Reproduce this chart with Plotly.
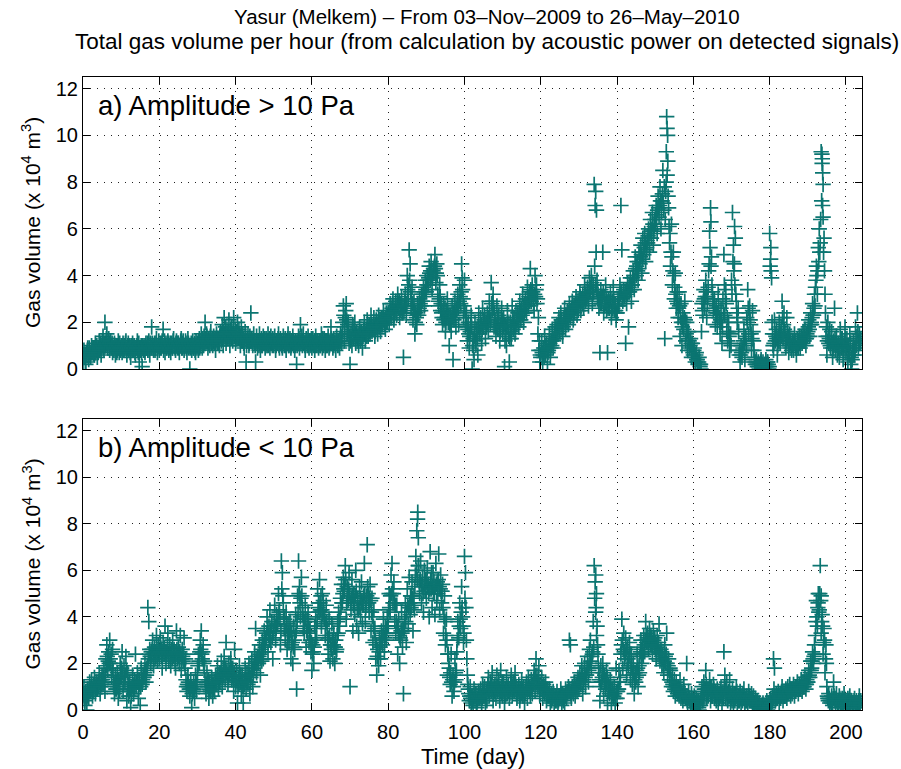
import numpy as np
import plotly.graph_objects as go

# ---------------------------------------------------------------
# Hourly gas volume at Yasur (Melkem), units of 1e4 m^3.
# Day 0 = 03-Nov-2009. Each block holds 2 days per row, one value
# every 6 h; the "_q" blocks hold the values 3 h later (03,09,15,21 h).
# ---------------------------------------------------------------
STEP_HOURS = 6
OFFSET_HOURS = 3

# a) events with amplitude > 10 Pa  (00, 06, 12, 18 h)
gas_high_d000_051 = [
    0.3, 0.8, 0.5, 0.2, 0.6, 0.9, 0.4, 0.7,
    0.5, 1.0, 0.7, 0.9, 0.6, 1.1, 0.8, 0.5,
    0.7, 1.2, 0.9, 0.6, 1.0, 1.4, 0.8, 2.0,
    1.1, 1.5, 0.9, 1.3, 0.8, 1.2, 1.0, 0.7,
    0.9, 1.1, 0.6, 1.0, 0.8, 1.2, 0.7, 0.9,
    1.0, 0.7, 1.1, 0.8, 0.9, 1.2, 0.6, 1.0,
    0.8, 1.0, 0.5, 0.9, 1.1, 0.8, 1.0, 0.6,
    0.9, 1.2, 0.7, 0.3, 0.8, 1.0, 0.1, 0.9,
    1.0, 0.7, 1.1, 0.9, 0.8, 1.2, 0.6, 1.0,
    1.8, 1.0, 0.8, 1.1, 0.9, 1.3, 0.7, 1.0,
    0.8, 1.1, 0.9, 1.2, 1.7, 1.0, 0.7, 1.1,
    0.9, 1.2, 0.8, 1.0, 0.7, 1.1, 0.9, 1.3,
    1.0, 0.8, 1.2, 0.9, 1.1, 0.7, 1.0, 1.3,
    0.9, 1.2, 0.8, 1.0, 1.1, 0.7, 1.3, 0.9,
    0.0, 1.0, 0.8, 1.2, 0.9, 1.1, 0.7, 1.0,
    1.1, 0.8, 1.3, 1.0, 1.5, 0.9, 1.2, 1.4,
    2.0, 1.1, 1.4, 0.9, 1.3, 1.0, 1.6, 1.2,
    1.0, 1.4, 1.2, 0.8, 1.5, 1.1, 1.3, 1.0,
    1.6, 1.2, 1.9, 1.0, 2.2, 1.4, 1.1, 1.7,
    1.3, 2.1, 1.0, 1.5, 1.8, 1.2, 2.2, 1.4,
    1.1, 1.6, 2.0, 1.3, 1.5, 1.0, 1.8, 1.2,
    1.3, 0.9, 1.6, 0.3, 1.2, 1.5, 1.0, 1.4,
    2.4, 1.2, 1.0, 1.5, 1.1, 0.3, 1.4, 0.9,
    1.2, 1.5, 0.8, 1.3, 1.0, 1.4, 1.1, 0.9,
    1.3, 1.0, 1.5, 1.2, 0.9, 1.4, 1.1, 1.3,
    1.0, 1.4, 0.8, 1.2, 1.1, 1.5, 0.9, 1.3,
]
gas_high_d052_101 = [
    1.2, 0.9, 1.4, 1.0, 1.3, 0.8, 1.1, 1.5,
    1.0, 1.3, 0.9, 1.2, 1.4, 1.0, 0.8, 1.2,
    0.2, 1.1, 1.4, 0.9, 1.9, 1.2, 1.0, 1.5,
    1.1, 0.8, 1.3, 1.0, 1.4, 0.9, 1.2, 1.0,
    0.9, 1.3, 1.1, 0.8, 1.4, 1.0, 1.2, 0.9,
    1.2, 1.0, 1.5, 0.9, 1.1, 1.3, 0.8, 1.2,
    1.0, 1.4, 0.9, 1.2, 1.8, 1.1, 0.9, 1.3,
    1.1, 0.8, 1.4, 1.0, 1.2, 0.9, 1.5, 1.1,
    1.6, 2.7, 1.2, 2.2, 2.8, 1.5, 2.0, 1.1,
    0.2, 1.5, 1.0, 1.9, 1.3, 2.0, 1.1, 1.6,
    1.4, 1.0, 1.8, 1.2, 1.6, 0.9, 1.5, 2.0,
    1.2, 1.7, 2.1, 1.4, 1.9, 1.5, 2.3, 1.6,
    1.7, 2.2, 1.4, 1.9, 2.0, 1.5, 2.3, 1.8,
    1.6, 2.2, 1.9, 2.5, 2.1, 1.7, 2.4, 2.0,
    2.4, 1.9, 2.8, 2.2, 2.6, 3.0, 2.1, 2.5,
    2.9, 2.3, 3.2, 2.6, 2.2, 2.8, 3.1, 2.4,
    0.5, 2.7, 3.2, 2.3, 4.0, 3.0, 5.1, 4.5,
    2.6, 3.5, 2.1, 2.9, 1.5, 2.4, 1.9, 2.8,
    2.3, 3.0, 2.5, 3.2, 2.9, 3.5, 2.7, 3.8,
    3.3, 4.0, 3.6, 4.4, 3.8, 4.6, 3.4, 4.2,
    4.1, 4.9, 3.7, 4.5, 3.2, 2.7, 3.6, 2.5,
    2.4, 1.9, 2.8, 2.2, 1.6, 2.5, 3.0, 2.0,
    1.0, 2.3, 1.6, 2.7, 0.4, 2.1, 2.9, 1.8,
    2.5, 3.2, 1.9, 3.6, 2.8, 4.5, 3.4, 2.2,
    3.8, 1.8, 2.4, 1.2, 2.0, 0.9, 1.6, 2.3,
]
gas_high_d102_151 = [
    0.0, 1.3, 0.4, 2.0, 1.0, 1.7, 0.6, 2.4,
    1.5, 2.2, 1.1, 2.6, 1.8, 2.3, 1.3, 2.0,
    2.4, 1.6, 2.9, 1.9, 3.7, 2.5, 3.2, 1.8,
    2.1, 1.4, 2.7, 1.7, 2.3, 1.2, 1.9, 2.6,
    1.5, 2.2, 0.1, 1.9, 1.0, 2.5, 1.6, 0.3,
    2.0, 1.3, 2.7, 1.7, 2.2, 1.5, 2.5, 1.9,
    2.4, 1.8, 2.9, 2.1, 2.6, 3.2, 2.0, 2.8,
    3.0, 2.4, 3.5, 2.7, 3.3, 4.3, 2.9, 3.6,
    3.1, 2.5, 4.0, 3.4, 2.8, 1.5, 0.8, 0.3,
    0.5, 1.2, 0.3, 0.9, 1.4, 0.6, 1.1, 0.2,
    0.8, 1.5, 0.5, 1.2, 1.7, 0.9, 1.3, 1.8,
    1.3, 1.9, 1.5, 2.2, 1.6, 2.4, 1.9, 1.4,
    2.0, 2.6, 1.7, 2.3, 2.5, 1.9, 2.8, 2.2,
    2.4, 2.9, 2.1, 2.7, 2.6, 3.1, 2.3, 2.9,
    2.8, 3.3, 2.5, 3.0, 3.2, 2.6, 3.6, 2.9,
    3.0, 3.5, 2.7, 3.9, 3.3, 4.0, 2.8, 3.6,
    7.9, 7.0, 5.0, 3.8, 3.2, 2.6, 0.7, 3.4,
    2.8, 5.0, 2.4, 3.1, 3.6, 2.5, 0.7, 3.0,
    2.6, 3.3, 2.2, 2.9, 3.5, 2.5, 2.8, 2.1,
    2.4, 3.0, 2.7, 3.6, 7.0, 5.1, 2.9, 3.4,
    3.1, 1.1, 2.8, 3.7, 1.8, 3.3, 3.9, 2.9,
    3.6, 4.2, 3.4, 4.8, 4.0, 4.6, 3.8, 5.0,
    4.5, 5.3, 4.1, 5.6, 4.9, 5.8, 4.6, 5.2,
    5.4, 6.0, 5.0, 6.4, 5.6, 6.7, 5.3, 6.1,
    6.2, 7.0, 5.8, 7.4, 6.5, 7.8, 6.0, 7.2,
]
gas_high_d152_203 = [
    8.5, 6.8, 1.3, 7.6, 10.8, 10.0, 6.9, 5.4,
    4.4, 6.2, 3.6, 5.0, 3.0, 4.1, 2.6, 3.3,
    2.2, 3.3, 1.4, 2.8, 1.0, 2.4, 1.7, 2.9,
    1.2, 2.0, 0.8, 1.6, 0.9, 1.3, 0.5, 1.1,
    0.6, 0.9, 0.3, 0.7, 0.4, 0.2, 0.5, 0.1,
    0.0, 2.8, 2.3, 3.4, 2.6, 3.8, 2.2, 3.1,
    4.2, 5.9, 6.9, 4.8, 3.3, 2.5, 3.0, 1.9,
    2.7, 1.8, 3.2, 2.2, 1.5, 2.6, 1.1, 3.0,
    4.9, 2.3, 3.4, 1.6, 1.2, 2.0, 0.8, 1.5,
    3.8, 6.7, 5.3, 4.5, 5.6, 2.9, 2.0, 2.6,
    0.6, 0.3, 1.0, 0.5, 0.9, 1.7, 0.4, 1.3,
    2.2, 3.4, 1.5, 2.7, 1.9, 0.8, 2.5, 1.2,
    0.5, 0.2, 0.4, 0.1, 0.3, 0.0, 0.2, 0.4,
    0.1, 0.3, 0.0, 0.2, 0.4, 0.1, 0.3, 0.0,
    5.8, 4.7, 3.9, 1.5, 0.8, 2.1, 1.2, 1.7,
    0.6, 1.4, 2.0, 1.1, 1.8, 2.9, 1.3, 2.4,
    1.6, 0.9, 2.2, 1.3, 0.7, 1.5, 1.1, 0.8,
    1.2, 0.8, 1.5, 1.0, 0.6, 1.3, 0.9, 1.4,
    0.9, 1.4, 1.1, 1.6, 1.2, 1.7, 1.0, 1.5,
    1.6, 2.1, 1.4, 2.4, 1.9, 2.8, 2.3, 3.2,
    3.5, 4.4, 3.2, 5.2, 6.0, 5.4, 9.3, 8.8,
    6.5, 5.6, 3.2, 1.4, 0.6, 2.0, 1.1, 1.7,
    0.9, 1.6, 0.5, 1.2, 2.6, 0.8, 1.4, 0.6,
    1.1, 0.5, 1.7, 0.9, 1.3, 0.4, 1.0, 1.8,
    0.7, 1.3, 0.3, 1.0, 1.5, 0.2, 0.0, 0.8,
    1.2, 0.6, 1.8, 1.0, 2.4, 0.9, 1.5, 1.1,
]

# a) amplitude > 10 Pa  (03, 09, 15, 21 h)
gas_high_q000_051 = [
    0.5, 0.6, 0.3, 0.7, 0.8, 0.5, 0.9, 0.6,
    0.7, 0.8, 0.9, 0.6, 0.9, 0.7, 1.0, 0.8,
    0.9, 0.8, 1.1, 0.9, 1.2, 0.9, 1.1, 1.0,
    1.3, 1.0, 1.2, 1.1, 1.0, 0.9, 1.1, 0.8,
    0.8, 1.0, 0.9, 0.7, 1.0, 0.9, 1.1, 0.8,
    0.9, 1.0, 0.8, 1.0, 1.1, 0.8, 0.9, 1.1,
    0.9, 0.7, 1.0, 0.8, 0.9, 1.0, 0.7, 0.9,
    1.0, 0.8, 1.1, 0.9, 0.9, 0.7, 1.0, 0.8,
    0.8, 1.0, 0.9, 1.1, 1.0, 0.8, 1.1, 0.9,
    1.1, 0.9, 1.0, 0.8, 1.1, 1.0, 0.9, 1.2,
    1.0, 0.9, 1.1, 1.0, 0.8, 1.2, 1.0, 0.9,
    1.0, 1.1, 0.9, 1.1, 1.0, 0.9, 1.2, 1.0,
    0.9, 1.1, 1.0, 1.1, 0.9, 1.0, 1.2, 0.9,
    1.1, 1.0, 0.9, 1.2, 0.9, 1.0, 1.1, 1.0,
    0.9, 1.1, 1.0, 0.9, 1.0, 0.8, 1.2, 0.9,
    1.0, 1.2, 0.9, 1.1, 1.2, 1.3, 1.0, 1.1,
    1.3, 1.5, 1.2, 1.1, 1.2, 1.4, 1.1, 1.3,
    1.2, 1.1, 1.3, 1.2, 1.3, 1.2, 1.1, 1.4,
    1.4, 1.5, 1.3, 1.6, 1.5, 1.8, 1.3, 1.4,
    1.6, 1.4, 1.7, 1.3, 1.5, 1.6, 1.4, 1.7,
    1.4, 1.3, 1.5, 1.7, 1.3, 1.4, 1.2, 1.5,
    1.1, 1.2, 1.4, 1.0, 1.3, 1.2, 1.1, 1.2,
    1.3, 1.1, 1.3, 1.2, 1.0, 1.2, 1.1, 1.2,
    1.0, 1.1, 1.2, 1.0, 1.2, 1.1, 1.3, 1.0,
    1.1, 1.2, 1.0, 1.3, 1.1, 1.2, 1.0, 1.1,
    1.2, 1.1, 1.0, 1.1, 1.3, 1.0, 1.2, 1.1,
]
gas_high_q052_101 = [
    1.0, 1.1, 1.2, 1.1, 1.0, 1.2, 1.3, 1.0,
    1.2, 1.1, 1.0, 1.1, 1.2, 1.1, 1.0, 1.1,
    1.0, 1.2, 1.1, 1.3, 1.1, 1.4, 1.2, 1.1,
    1.0, 1.1, 1.2, 1.1, 1.0, 1.2, 1.1, 1.3,
    1.1, 1.0, 1.2, 1.0, 1.1, 1.2, 1.0, 1.1,
    1.0, 1.2, 1.1, 1.3, 1.0, 1.1, 1.2, 1.0,
    1.2, 1.1, 1.0, 1.1, 1.3, 1.2, 1.0, 1.1,
    1.0, 1.2, 1.1, 1.2, 1.0, 1.3, 1.2, 1.4,
    2.0, 2.3, 1.8, 2.5, 2.1, 1.9, 1.6, 1.4,
    1.2, 1.3, 1.7, 1.4, 1.6, 1.5, 1.4, 1.3,
    1.2, 1.5, 1.3, 1.6, 1.3, 1.4, 1.7, 1.5,
    1.5, 1.4, 1.8, 1.7, 1.6, 1.8, 1.9, 1.7,
    1.9, 1.8, 1.6, 2.1, 1.7, 1.9, 2.0, 2.1,
    1.9, 2.0, 2.2, 2.1, 1.9, 2.2, 2.0, 2.3,
    2.2, 2.3, 2.5, 2.4, 2.8, 2.4, 2.3, 2.7,
    2.5, 2.7, 2.8, 2.9, 2.5, 2.6, 2.4, 2.7,
    2.4, 2.9, 2.7, 2.8, 3.4, 3.6, 3.8, 3.3,
    3.0, 2.8, 2.4, 2.5, 2.0, 2.2, 2.3, 2.5,
    2.6, 2.8, 2.7, 2.9, 3.2, 3.1, 3.3, 3.4,
    3.6, 3.8, 3.9, 4.1, 4.2, 4.0, 3.9, 4.3,
    4.4, 4.3, 4.1, 4.0, 2.9, 3.0, 3.1, 2.8,
    2.2, 2.5, 2.1, 2.6, 2.0, 2.2, 2.4, 2.3,
    1.9, 2.0, 2.1, 2.2, 2.4, 2.5, 2.3, 2.6,
    2.8, 2.6, 2.9, 3.1, 3.3, 3.9, 3.0, 2.7,
    2.5, 2.2, 1.9, 1.7, 1.5, 1.4, 1.9, 1.8,
]
gas_high_q102_151 = [
    1.0, 0.8, 1.4, 1.2, 1.5, 1.3, 1.8, 1.6,
    1.8, 1.9, 1.7, 2.0, 2.1, 2.0, 1.8, 1.9,
    2.0, 2.2, 2.3, 2.1, 2.8, 2.9, 2.6, 2.4,
    1.9, 1.8, 2.2, 2.0, 1.7, 1.6, 2.2, 2.1,
    1.8, 1.9, 1.2, 1.5, 1.8, 2.0, 1.4, 1.3,
    1.6, 1.8, 2.1, 2.0, 1.9, 1.8, 2.1, 2.2,
    2.1, 2.3, 2.5, 2.4, 2.3, 2.7, 2.4, 2.5,
    2.7, 2.8, 3.0, 3.1, 2.9, 3.4, 3.2, 3.3,
    2.8, 3.2, 3.1, 3.6, 3.0, 2.2, 1.2, 0.6,
    0.8, 0.7, 0.6, 0.5, 0.9, 1.0, 0.8, 0.7,
    1.0, 1.1, 0.9, 1.0, 1.3, 1.2, 1.5, 1.4,
    1.6, 1.7, 1.8, 1.9, 2.0, 2.1, 1.7, 1.8,
    2.2, 2.3, 2.1, 2.0, 2.2, 2.4, 2.3, 2.5,
    2.6, 2.5, 2.6, 2.4, 2.8, 2.7, 2.6, 2.5,
    3.0, 3.1, 2.9, 2.8, 2.9, 3.0, 3.2, 3.1,
    3.2, 3.1, 3.3, 3.4, 3.5, 3.7, 3.2, 3.3,
    4.4, 3.6, 3.4, 3.1, 2.9, 3.0, 2.8, 3.1,
    3.1, 3.3, 2.7, 2.8, 3.0, 2.9, 2.6, 2.7,
    2.9, 3.0, 2.5, 2.6, 3.0, 2.8, 2.5, 2.4,
    2.7, 2.8, 3.1, 3.2, 3.3, 3.0, 3.2, 3.1,
    3.3, 3.4, 3.2, 3.3, 3.5, 3.6, 3.4, 3.6,
    3.9, 4.0, 3.8, 4.3, 4.4, 4.2, 4.3, 4.6,
    4.8, 4.9, 4.7, 5.0, 5.2, 5.4, 5.1, 5.5,
    5.7, 5.6, 5.8, 5.9, 6.0, 6.2, 5.9, 6.4,
    6.6, 6.4, 6.8, 6.9, 7.0, 7.2, 6.7, 7.5,
]
gas_high_q152_203 = [
    7.1, 7.8, 6.4, 8.0, 8.3, 7.4, 6.1, 5.8,
    5.0, 4.8, 4.2, 4.0, 3.5, 3.2, 2.9, 2.8,
    2.6, 2.7, 2.2, 2.0, 1.8, 2.0, 2.2, 2.1,
    1.5, 1.6, 1.3, 1.2, 1.0, 1.1, 0.8, 0.7,
    0.8, 0.5, 0.6, 0.4, 0.3, 0.3, 0.2, 0.2,
    1.6, 2.5, 2.9, 3.0, 3.1, 3.3, 2.8, 3.5,
    4.5, 5.2, 4.4, 3.6, 2.9, 2.8, 2.6, 2.4,
    2.3, 2.4, 2.6, 2.0, 2.1, 2.0, 1.8, 2.4,
    3.6, 2.9, 2.8, 2.2, 1.6, 1.4, 1.1, 1.0,
    3.2, 4.6, 4.2, 3.6, 3.2, 2.4, 2.2, 1.6,
    0.8, 0.6, 0.7, 0.8, 1.2, 1.1, 1.4, 1.0,
    2.0, 2.6, 2.4, 2.1, 1.5, 1.3, 1.6, 0.8,
    0.3, 0.3, 0.2, 0.2, 0.1, 0.2, 0.3, 0.1,
    0.2, 0.1, 0.2, 0.1, 0.2, 0.3, 0.2, 0.1,
    4.4, 4.2, 2.0, 1.0, 1.1, 1.5, 1.4, 1.3,
    1.0, 1.2, 1.6, 1.5, 1.4, 2.2, 1.9, 1.7,
    1.3, 1.2, 1.6, 1.4, 1.0, 1.2, 0.9, 1.0,
    1.0, 1.1, 1.2, 0.9, 0.9, 1.0, 1.2, 1.1,
    1.1, 1.2, 1.3, 1.2, 1.4, 1.3, 1.3, 1.4,
    1.8, 1.7, 1.9, 2.0, 2.2, 2.3, 2.6, 2.7,
    3.8, 4.0, 4.2, 4.6, 5.0, 6.4, 7.2, 7.0,
    5.0, 4.2, 2.4, 1.8, 1.2, 1.4, 1.3, 1.0,
    1.2, 1.1, 0.9, 1.0, 1.3, 1.1, 1.0, 0.9,
    0.9, 0.8, 1.2, 1.3, 1.0, 0.7, 1.2, 1.3,
    0.9, 1.0, 0.7, 0.6, 1.1, 0.5, 0.4, 0.6,
    0.9, 0.8, 1.3, 1.4, 1.6, 1.2, 1.1, 1.3,
]
# short bursts between the regular samples
burst_high_day = [134.4, 134.6, 152.9, 153.1, 153.3, 164.6, 170.8, 180.3,
                  193.7, 193.8, 193.9, 194.0]
burst_high_val = [7.6, 6.8, 9.3, 10.3, 8.9, 6.3, 6.1, 5.2,
                  9.2, 9.0, 8.4, 7.9]

# b) events with amplitude < 10 Pa  (00, 06, 12, 18 h)
gas_low_d000_051 = [
    0.6, 1.0, 0.2, 0.8, 0.0, 0.9, 0.5, 1.2,
    0.8, 1.3, 0.6, 1.1, 1.4, 0.7, 1.2, 0.9,
    1.0, 1.6, 0.7, 1.3, 1.5, 1.1, 1.8, 0.8,
    2.2, 2.8, 1.7, 2.5, 3.0, 2.0, 1.4, 2.6,
    1.2, 0.7, 1.5, 0.9, 1.6, 0.5, 1.1, 2.0,
    1.4, 2.5, 0.8, 1.9, 1.2, 2.3, 0.4, 1.6,
    0.6, 1.2, 0.1, 0.9, 1.5, 0.7, 1.3, 2.4,
    1.0, 1.6, 0.5, 1.3, 0.2, 1.8, 1.1, 1.5,
    1.4, 2.0, 1.2, 1.8, 4.4, 3.8, 2.6, 2.0,
    2.3, 3.0, 1.9, 2.7, 2.5, 3.2, 2.1, 2.8,
    2.2, 3.1, 2.6, 1.8, 2.9, 2.4, 3.6, 2.0,
    2.5, 3.3, 2.1, 2.8, 1.9, 2.6, 3.0, 2.3,
    2.4, 1.8, 3.4, 2.2, 2.7, 2.0, 3.2, 1.7,
    2.6, 2.1, 3.1, 1.8, 1.3, 0.8, 1.5, 1.0,
    0.6, 1.3, 0.1, 0.9, 1.2, 0.5, 1.5, 0.8,
    1.6, 2.4, 2.0, 3.0, 3.4, 2.2, 2.8, 1.7,
    1.3, 0.7, 1.6, 1.0, 0.5, 1.2, 0.8, 1.4,
    0.6, 1.1, 0.8, 1.5, 1.2, 1.9, 0.9, 1.6,
    1.4, 2.1, 1.0, 1.8, 2.3, 1.3, 2.9, 1.7,
    1.1, 2.0, 1.5, 2.2, 1.3, 1.8, 0.8, 2.6,
    1.0, 1.7, 0.3, 1.4, 1.9, 1.2, 0.6, 1.5,
    0.3, 1.3, 1.8, 0.9, 1.6, 1.1, 2.0, 0.7,
    1.4, 2.2, 1.0, 1.8, 2.5, 3.5, 1.6, 2.3,
    2.0, 2.8, 1.5, 2.6, 3.0, 2.2, 3.4, 2.7,
    3.1, 4.0, 2.5, 3.6, 4.3, 2.9, 3.8, 2.2,
    3.4, 4.5, 3.0, 4.1, 3.7, 5.0, 4.3, 2.8,
]
gas_low_d052_101 = [
    6.4, 5.9, 4.6, 3.5, 3.0, 4.2, 2.6, 3.7,
    2.9, 3.8, 2.2, 3.3, 2.0, 3.6, 2.6, 4.1,
    0.9, 4.9, 6.4, 5.3, 4.0, 5.7, 4.4, 3.5,
    3.3, 4.5, 2.7, 3.9, 4.2, 2.9, 3.5, 2.5,
    1.7, 2.8, 2.0, 3.6, 4.0, 3.1, 5.2, 4.6,
    5.6, 4.3, 3.6, 5.0, 4.7, 3.9, 3.2, 4.5,
    3.5, 2.4, 3.9, 2.1, 2.8, 3.7, 2.2, 3.3,
    2.0, 3.0, 2.6, 3.8, 4.2, 3.6, 4.8, 5.4,
    4.6, 5.7, 5.1, 6.2, 3.9, 5.3, 4.7, 5.9,
    1.0, 4.3, 5.6, 3.4, 5.0, 4.1, 6.0, 3.6,
    4.8, 3.3, 5.3, 4.0, 5.5, 3.7, 4.5, 6.3,
    3.8, 4.6, 7.1, 5.0, 4.2, 5.4, 3.4, 4.8,
    2.9, 4.3, 3.5, 2.2, 1.5, 2.6, 1.9, 3.1,
    2.2, 3.4, 2.8, 3.9, 2.5, 3.6, 3.0, 4.0,
    3.6, 5.0, 4.2, 5.8, 6.3, 4.6, 5.5, 3.8,
    3.3, 4.5, 2.4, 3.9, 2.0, 3.0, 4.2, 2.7,
    0.7, 3.5, 4.6, 2.9, 5.2, 3.7, 5.7, 4.1,
    4.4, 5.5, 3.4, 4.9, 5.3, 6.6, 7.7, 8.5,
    6.2, 5.0, 6.4, 4.6, 5.7, 4.2, 6.0, 5.1,
    4.8, 6.1, 5.4, 4.0, 6.8, 5.2, 4.4, 5.9,
    5.5, 4.1, 6.3, 4.7, 5.0, 6.7, 4.3, 5.8,
    4.6, 5.4, 3.3, 4.9, 2.8, 3.9, 1.5, 2.4,
    1.8, 1.1, 2.4, 0.6, 1.5, 0.8, 2.2, 1.3,
    2.5, 3.8, 3.1, 4.6, 3.5, 5.3, 4.0, 2.9,
    6.6, 5.9, 3.0, 1.5, 0.9, 0.4, 1.0, 0.3,
]
gas_low_d102_151 = [
    0.6, 0.2, 0.9, 0.4, 0.7, 0.1, 0.5, 0.8,
    0.5, 0.9, 0.3, 1.1, 0.6, 1.0, 0.2, 0.8,
    0.9, 1.4, 0.6, 1.2, 0.8, 1.6, 0.4, 1.0,
    1.1, 0.5, 1.5, 0.8, 1.3, 0.4, 1.7, 0.7,
    0.6, 1.2, 0.3, 0.9, 1.4, 0.7, 1.1, 0.5,
    0.9, 1.5, 0.6, 1.2, 0.8, 1.6, 1.0, 0.5,
    0.7, 1.1, 0.4, 0.9, 1.3, 0.6, 1.0, 0.3,
    0.8, 1.2, 0.5, 1.4, 1.0, 0.6, 1.3, 0.7,
    1.1, 1.7, 0.8, 2.2, 1.5, 1.0, 1.9, 0.6,
    0.9, 1.4, 0.5, 1.1, 0.7, 1.2, 0.4, 0.9,
    0.6, 0.9, 0.3, 0.7, 0.5, 0.8, 0.2, 0.6,
    0.4, 0.8, 0.3, 0.6, 0.5, 0.9, 0.2, 0.7,
    0.6, 0.3, 0.9, 0.5, 0.7, 1.0, 3.0, 2.8,
    0.5, 1.0, 0.7, 1.2, 0.6, 1.1, 0.8, 1.4,
    0.9, 1.6, 1.1, 1.9, 0.7, 1.3, 2.0, 1.0,
    1.5, 2.3, 1.2, 2.6, 3.0, 1.8, 2.4, 3.8,
    6.2, 5.5, 4.4, 3.6, 2.4, 1.6, 0.4, 1.9,
    1.2, 2.0, 0.6, 1.5, 0.9, 1.7, 0.3, 1.1,
    0.7, 1.3, 0.2, 0.9, 0.5, 1.0, 0.3, 1.8,
    0.5, 0.9, 1.7, 1.2, 2.4, 3.9, 1.8, 3.3,
    2.2, 3.1, 1.5, 2.7, 1.9, 2.9, 1.3, 2.4,
    1.1, 2.0, 0.7, 1.6, 1.4, 2.4, 1.0, 1.9,
    2.3, 3.0, 2.0, 2.7, 3.2, 2.5, 3.8, 2.9,
    3.3, 2.6, 3.5, 2.8, 3.1, 2.4, 3.4, 2.7,
    2.9, 2.2, 3.2, 2.5, 3.7, 2.1, 2.6, 1.9,
]
gas_low_d152_203 = [
    2.4, 1.6, 2.8, 2.0, 3.3, 1.5, 2.2, 1.3,
    1.7, 1.0, 1.5, 0.8, 1.3, 0.6, 1.2, 0.9,
    1.0, 0.6, 1.3, 0.5, 0.8, 0.4, 1.1, 0.7,
    0.6, 2.0, 0.3, 0.8, 0.5, 0.2, 0.7, 0.4,
    0.3, 0.6, 0.1, 0.5, 0.2, 0.4, 0.0, 0.3,
    0.5, 1.0, 0.4, 1.2, 0.7, 1.7, 0.5, 0.9,
    0.8, 1.3, 0.4, 1.0, 0.6, 1.1, 0.5, 0.8,
    0.4, 0.9, 0.3, 0.7, 0.6, 1.0, 0.2, 0.8,
    2.5, 1.5, 0.5, 1.2, 0.4, 0.8, 1.3, 0.3,
    0.6, 0.9, 0.2, 0.7, 0.5, 1.0, 0.3, 0.6,
    0.4, 0.8, 0.3, 0.6, 0.7, 0.9, 0.2, 0.5,
    0.6, 0.3, 0.8, 0.4, 0.5, 0.7, 0.2, 0.6,
    0.3, 0.5, 0.1, 0.4, 0.2, 0.3, 0.0, 0.2,
    0.1, 0.3, 0.0, 0.2, 0.1, 0.4, 0.0, 0.3,
    0.2, 0.5, 0.3, 0.6, 2.2, 1.8, 0.4, 0.7,
    0.5, 0.8, 0.3, 0.7, 0.6, 1.0, 0.4, 0.8,
    0.6, 0.9, 0.5, 1.0, 0.7, 1.1, 0.6, 0.9,
    0.8, 1.1, 0.6, 1.0, 0.9, 1.2, 0.7, 1.1,
    0.9, 1.3, 0.8, 1.2, 1.0, 1.4, 0.9, 1.3,
    1.2, 1.7, 1.4, 2.1, 1.8, 2.5, 2.0, 2.8,
    3.2, 4.7, 3.6, 5.0, 4.3, 6.2, 3.3, 4.1,
    2.4, 3.5, 1.6, 2.8, 1.0, 0.5, 0.7, 0.3,
    0.4, 0.6, 0.2, 1.2, 0.5, 0.3, 0.7, 0.2,
    0.3, 0.6, 0.1, 0.4, 0.5, 0.2, 0.7, 0.3,
    0.4, 0.1, 0.5, 0.3, 0.6, 0.2, 0.4, 0.1,
    0.3, 0.5, 0.2, 0.4, 0.1, 0.3, 0.6, 0.2,
]

# b) amplitude < 10 Pa  (03, 09, 15, 21 h)
gas_low_q000_051 = [
    0.7, 0.4, 0.6, 0.5, 0.6, 0.7, 0.8, 0.9,
    1.0, 0.9, 0.8, 1.0, 1.1, 1.0, 0.9, 1.1,
    1.2, 1.3, 1.0, 1.1, 1.3, 1.4, 1.2, 1.5,
    1.9, 2.3, 2.1, 2.0, 2.2, 2.4, 1.8, 1.7,
    1.0, 1.1, 0.9, 1.2, 1.0, 1.3, 0.8, 1.4,
    1.8, 1.6, 1.2, 1.4, 1.5, 1.7, 0.9, 1.1,
    0.8, 0.9, 0.6, 1.0, 1.1, 0.9, 1.0, 1.2,
    1.2, 1.3, 0.9, 1.1, 1.0, 1.2, 1.3, 1.4,
    1.6, 1.7, 1.5, 1.9, 2.2, 2.4, 2.3, 2.5,
    2.6, 2.4, 2.5, 2.2, 2.3, 2.6, 2.4, 2.5,
    2.5, 2.7, 2.3, 2.4, 2.6, 2.7, 2.5, 2.3,
    2.7, 2.4, 2.6, 2.3, 2.4, 2.2, 2.5, 2.6,
    2.1, 2.5, 2.6, 2.4, 2.3, 2.5, 2.4, 2.2,
    2.3, 2.4, 2.0, 2.2, 1.0, 1.1, 1.2, 0.9,
    0.9, 1.0, 0.7, 0.8, 0.9, 1.0, 1.1, 1.2,
    1.9, 2.1, 2.5, 2.6, 2.4, 2.5, 2.0, 2.1,
    1.0, 1.1, 1.2, 1.3, 0.9, 0.8, 1.0, 1.1,
    0.9, 1.0, 1.2, 1.1, 1.4, 1.5, 1.3, 1.2,
    1.6, 1.5, 1.4, 1.5, 1.7, 1.8, 1.6, 1.5,
    1.4, 1.6, 1.7, 1.8, 1.5, 1.4, 1.6, 1.3,
    1.3, 1.2, 1.0, 1.1, 1.4, 1.5, 1.2, 1.0,
    1.0, 1.1, 1.4, 1.3, 1.2, 1.4, 1.5, 1.2,
    1.6, 1.7, 1.5, 1.9, 2.0, 2.1, 2.2, 2.0,
    2.3, 2.4, 2.2, 2.1, 2.5, 2.8, 2.9, 3.0,
    3.3, 3.5, 3.2, 3.0, 3.4, 3.6, 3.1, 3.3,
    3.8, 3.6, 3.5, 3.7, 4.0, 4.2, 3.9, 3.4,
]
gas_low_q052_101 = [
    5.2, 4.9, 4.0, 3.9, 3.4, 3.6, 3.2, 3.3,
    3.2, 3.4, 2.8, 2.9, 2.7, 3.0, 3.2, 3.4,
    3.8, 4.2, 5.0, 4.6, 4.8, 4.9, 4.1, 3.9,
    3.8, 3.9, 3.4, 3.3, 3.6, 3.4, 3.0, 2.9,
    2.4, 2.5, 2.7, 3.0, 3.5, 3.8, 4.4, 4.2,
    4.6, 4.9, 4.3, 4.1, 4.2, 4.0, 3.7, 3.8,
    3.0, 3.1, 3.2, 2.8, 2.6, 3.0, 2.8, 2.7,
    2.7, 2.5, 3.2, 3.3, 3.9, 4.0, 4.4, 4.6,
    5.0, 5.2, 5.4, 5.6, 4.6, 4.9, 5.2, 5.0,
    4.6, 4.8, 4.9, 4.5, 4.7, 4.9, 5.1, 4.4,
    4.3, 4.4, 4.8, 4.6, 4.7, 4.5, 4.9, 5.0,
    4.4, 4.9, 5.3, 4.6, 4.8, 4.7, 4.2, 4.0,
    3.6, 3.4, 3.0, 2.8, 2.3, 2.2, 2.5, 2.7,
    2.9, 3.0, 3.2, 3.3, 3.1, 3.2, 3.5, 3.6,
    4.3, 4.4, 4.9, 5.0, 5.2, 5.0, 4.6, 4.5,
    3.8, 3.6, 3.3, 3.2, 3.1, 3.4, 3.3, 3.5,
    3.4, 4.0, 3.8, 4.2, 4.5, 4.4, 4.6, 4.9,
    4.9, 4.8, 4.5, 4.3, 5.8, 6.0, 5.6, 6.2,
    5.5, 5.6, 5.4, 5.3, 5.0, 5.1, 5.4, 5.6,
    5.5, 5.3, 5.0, 5.2, 5.6, 5.9, 5.3, 5.0,
    5.0, 5.3, 5.4, 5.5, 5.6, 5.3, 5.2, 5.1,
    5.1, 4.4, 4.0, 3.8, 3.2, 3.0, 2.4, 2.0,
    1.4, 1.6, 1.2, 1.3, 1.0, 1.2, 1.6, 1.7,
    3.0, 3.2, 3.6, 3.9, 4.2, 4.4, 3.6, 3.3,
    4.8, 4.4, 2.2, 1.1, 0.7, 0.6, 0.5, 0.6,
]
gas_low_q102_151 = [
    0.4, 0.5, 0.6, 0.7, 0.3, 0.4, 0.6, 0.5,
    0.7, 0.6, 0.5, 0.7, 0.8, 0.6, 0.5, 0.4,
    1.1, 0.8, 0.9, 1.0, 1.1, 0.9, 0.7, 0.8,
    0.8, 0.9, 1.0, 1.1, 0.9, 0.8, 1.0, 1.2,
    0.9, 0.8, 0.6, 0.7, 1.0, 0.9, 0.8, 0.7,
    1.2, 1.1, 1.0, 0.9, 1.2, 1.1, 0.7, 0.8,
    0.9, 0.8, 0.6, 0.7, 0.9, 0.8, 0.6, 0.7,
    1.0, 0.9, 0.9, 1.0, 0.8, 0.9, 1.0, 1.1,
    1.3, 1.4, 1.5, 1.2, 1.2, 1.3, 1.1, 0.9,
    1.1, 1.0, 0.8, 0.9, 1.0, 0.9, 0.7, 0.6,
    0.7, 0.6, 0.5, 0.4, 0.6, 0.7, 0.5, 0.4,
    0.6, 0.5, 0.4, 0.5, 0.6, 0.7, 0.5, 0.4,
    0.5, 0.6, 0.7, 0.8, 0.8, 0.9, 0.8, 0.7,
    0.8, 0.9, 0.9, 1.0, 0.9, 1.0, 1.1, 1.2,
    1.2, 1.3, 1.4, 1.5, 1.2, 1.6, 1.4, 1.5,
    1.8, 1.9, 1.7, 2.0, 2.1, 2.3, 2.5, 2.7,
    4.8, 4.2, 3.2, 2.8, 1.8, 1.3, 1.0, 1.2,
    1.4, 1.6, 1.2, 1.3, 1.1, 1.4, 0.8, 0.9,
    1.0, 0.9, 0.6, 0.7, 0.6, 0.7, 0.5, 0.8,
    0.8, 0.9, 1.2, 1.4, 2.8, 3.0, 2.6, 2.5,
    2.4, 2.6, 2.0, 2.2, 2.3, 2.4, 1.8, 1.9,
    1.5, 1.6, 1.3, 1.2, 1.7, 1.8, 1.5, 1.6,
    2.5, 2.6, 2.4, 2.3, 2.8, 3.0, 3.2, 3.1,
    2.9, 3.0, 3.1, 3.2, 2.8, 2.9, 3.0, 3.1,
    2.6, 2.7, 2.8, 2.9, 2.4, 2.5, 2.3, 2.2,
]
gas_low_q152_203 = [
    2.0, 2.1, 2.3, 2.4, 2.0, 1.9, 1.7, 1.8,
    1.3, 1.2, 1.1, 1.0, 0.9, 1.0, 0.8, 0.7,
    0.8, 0.9, 0.9, 0.7, 0.6, 0.6, 0.8, 0.5,
    0.5, 0.4, 0.6, 0.5, 0.4, 0.3, 0.5, 0.3,
    0.4, 0.2, 0.3, 0.2, 0.3, 0.1, 0.2, 0.2,
    0.7, 0.8, 0.6, 0.9, 0.9, 1.1, 0.7, 0.6,
    0.9, 1.0, 0.7, 0.6, 0.8, 0.9, 0.7, 0.6,
    0.6, 0.7, 0.5, 0.5, 0.8, 0.7, 0.6, 0.5,
    1.0, 0.9, 0.8, 0.7, 0.6, 0.6, 0.7, 0.5,
    0.4, 0.7, 0.5, 0.4, 0.7, 0.8, 0.5, 0.4,
    0.6, 0.5, 0.5, 0.4, 0.5, 0.6, 0.4, 0.4,
    0.4, 0.5, 0.6, 0.5, 0.4, 0.5, 0.4, 0.3,
    0.2, 0.4, 0.3, 0.2, 0.1, 0.2, 0.1, 0.1,
    0.2, 0.1, 0.1, 0.1, 0.2, 0.2, 0.1, 0.2,
    0.4, 0.3, 0.4, 0.5, 0.9, 0.6, 0.5, 0.6,
    0.6, 0.6, 0.5, 0.5, 0.8, 0.7, 0.6, 0.6,
    0.7, 0.8, 0.7, 0.8, 0.8, 0.9, 0.8, 0.7,
    0.9, 0.9, 0.8, 0.8, 1.0, 1.0, 0.9, 0.9,
    1.0, 1.1, 1.0, 1.0, 1.2, 1.1, 1.1, 1.2,
    1.4, 1.5, 1.6, 1.7, 2.1, 2.2, 2.3, 2.4,
    3.8, 4.0, 4.4, 4.2, 5.0, 4.7, 3.8, 3.6,
    2.9, 3.0, 2.2, 2.0, 0.6, 0.4, 0.5, 0.4,
    0.3, 0.4, 0.5, 0.6, 0.4, 0.5, 0.4, 0.3,
    0.4, 0.5, 0.3, 0.2, 0.3, 0.4, 0.5, 0.4,
    0.2, 0.3, 0.4, 0.2, 0.3, 0.4, 0.3, 0.2,
    0.4, 0.3, 0.2, 0.3, 0.2, 0.4, 0.3, 0.4,
]
burst_low_day = [87.7, 87.9, 134.4, 134.6, 192.7, 193.5]
burst_low_val = [8.2, 7.4, 5.8, 5.0, 4.6, 4.9]

x_ticks = [0, 20, 40, 60, 80, 100, 120, 140, 160, 180, 200]
y_ticks = [0, 2, 4, 6, 8, 10, 12]

TITLE_1 = "Yasur (Melkem) \u2013 From 03\u2013Nov\u20132009 to 26\u2013May\u20132010"
TITLE_2 = "Total gas volume per hour (from calculation by acoustic power on detected signals)"
Y_LABEL = "Gas volume (x 10<sup>4</sup> m<sup>3</sup>)"
X_LABEL = "Time (day)"
PANEL_A = "a) Amplitude > 10 Pa"
PANEL_B = "b) Amplitude < 10 Pa"

# ---------------------------------------------------------------
W, H = 901, 769
ML, MR, MT, MB = 83, 39, 77, 59
PW, PH = W - ML - MR, H - MT - MB
TOP_A, BOT_A = 77, 369
TOP_B, BOT_B = 419, 710
FONT = "Liberation Sans"
TEAL = "#0b7571"


def px_x(px):
    return (px - ML) / PW


def px_y(py):
    return (H - MB - py) / PH


def sampled(chunks, offset_hours):
    vals = np.concatenate([np.asarray(c, dtype=float) for c in chunks])
    days = (np.arange(len(vals)) * STEP_HOURS + offset_hours) / 24.0
    return days, vals


def panel_series(main_chunks, offset_chunks, burst_day, burst_val):
    d0, v0 = sampled(main_chunks, 0)
    d1, v1 = sampled(offset_chunks, OFFSET_HOURS)
    days = np.concatenate([d0, d1, burst_day])
    vals = np.concatenate([v0, v1, burst_val])
    order = np.argsort(days, kind="stable")
    return days[order], vals[order]


day_a, val_a = panel_series(
    [gas_high_d000_051, gas_high_d052_101, gas_high_d102_151, gas_high_d152_203],
    [gas_high_q000_051, gas_high_q052_101, gas_high_q102_151, gas_high_q152_203],
    burst_high_day, burst_high_val)
day_b, val_b = panel_series(
    [gas_low_d000_051, gas_low_d052_101, gas_low_d102_151, gas_low_d152_203],
    [gas_low_q000_051, gas_low_q052_101, gas_low_q102_151, gas_low_q152_203],
    burst_low_day, burst_low_val)

marker = dict(symbol="cross-thin", size=11, color=TEAL,
              line=dict(color=TEAL, width=1.7))

fig = go.Figure()
fig.add_trace(go.Scatter(x=day_a, y=val_a, mode="markers", marker=marker,
                         xaxis="x", yaxis="y", showlegend=False))
fig.add_trace(go.Scatter(x=day_b, y=val_b, mode="markers", marker=marker,
                         xaxis="x2", yaxis="y2", showlegend=False))

axis_style = dict(
    showline=True, linecolor="black", linewidth=1.2, mirror="ticks",
    ticks="inside", ticklen=7, tickwidth=1, tickcolor="black",
    showgrid=True, gridcolor="#222222", gridwidth=1, griddash="1px,6px",
    zeroline=False,
    tickfont=dict(family=FONT, size=20, color="black"),
)

fig.update_layout(
    width=W, height=H,
    margin=dict(l=ML, r=MR, t=MT, b=MB),
    paper_bgcolor="white", plot_bgcolor="white",
    font=dict(family=FONT, color="black"),
    xaxis=dict(axis_style, domain=[0, 1], anchor="y", range=[0, 204.2],
               tickvals=x_ticks, showticklabels=False),
    yaxis=dict(axis_style, domain=[px_y(BOT_A), px_y(TOP_A)], anchor="x",
               range=[0, 12.5], tickvals=y_ticks),
    xaxis2=dict(axis_style, domain=[0, 1], anchor="y2", range=[0, 204.2],
                tickvals=x_ticks, ticklabelstandoff=4),
    yaxis2=dict(axis_style, domain=[px_y(BOT_B), px_y(TOP_B)], anchor="x2",
                range=[0, 12.5], tickvals=y_ticks),
)

ann = [
    dict(text=TITLE_1, x=px_x(487), y=px_y(16), font=dict(size=20.5)),
    dict(text=TITLE_2, x=px_x(487), y=px_y(41), font=dict(size=22.5)),
    dict(text=PANEL_A, x=px_x(96), y=px_y(105), xanchor="left",
         font=dict(size=27.5)),
    dict(text=PANEL_B, x=px_x(96), y=px_y(447), xanchor="left",
         font=dict(size=27.5)),
    dict(text=Y_LABEL, x=px_x(31), y=px_y((TOP_A + BOT_A) / 2),
         textangle=-90, font=dict(size=21)),
    dict(text=Y_LABEL, x=px_x(31), y=px_y((TOP_B + BOT_B) / 2),
         textangle=-90, font=dict(size=21)),
    dict(text=X_LABEL, x=px_x(473), y=px_y(756), font=dict(size=22)),
]
for a in ann:
    a.update(xref="paper", yref="paper", showarrow=False,
             yanchor="middle", xanchor=a.get("xanchor", "center"))
fig.update_layout(annotations=ann)

fig.write_html("out.html")
